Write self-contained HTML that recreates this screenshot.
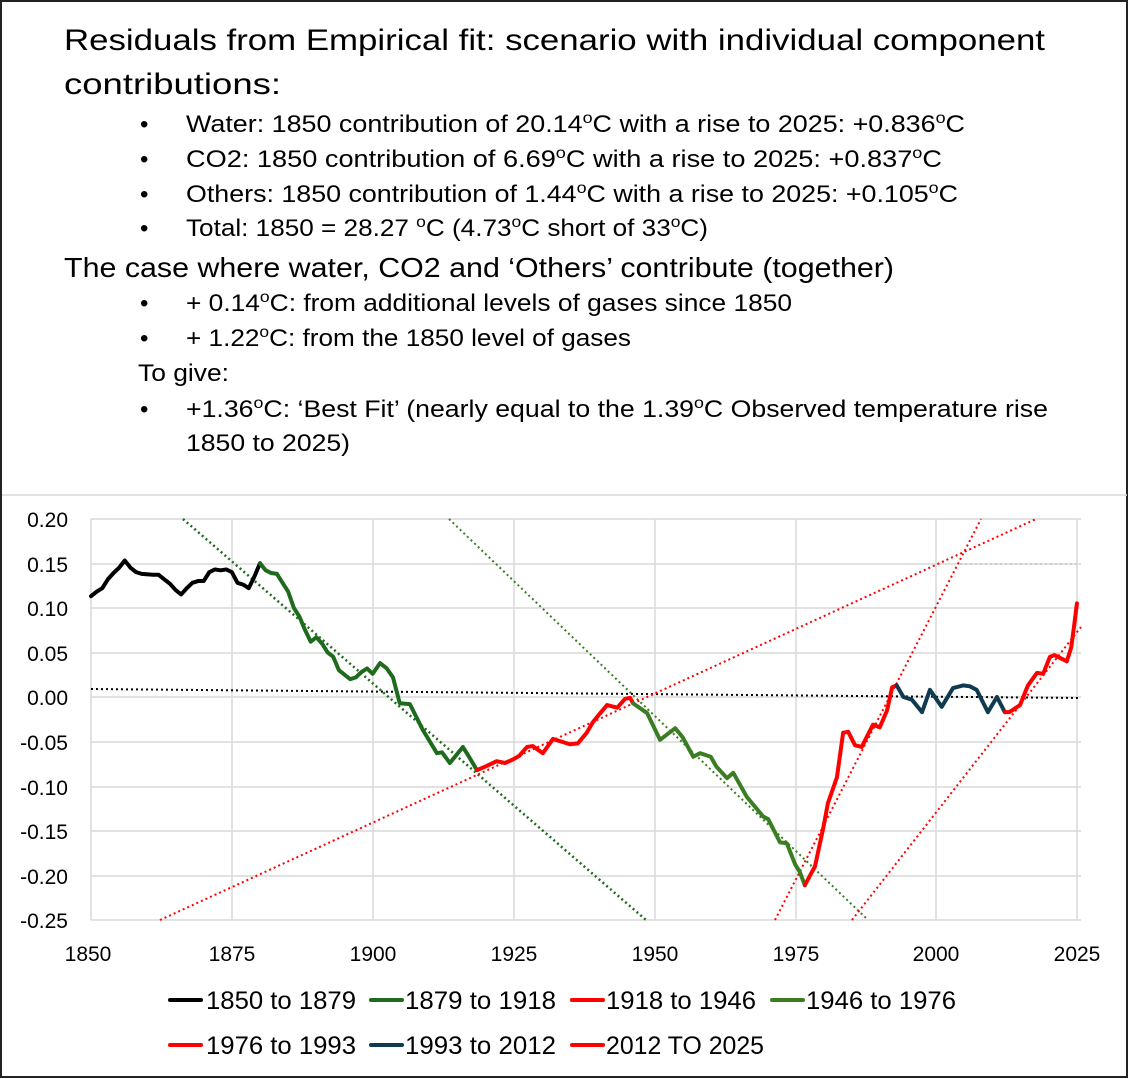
<!DOCTYPE html>
<html><head><meta charset="utf-8"><style>
html,body{margin:0;padding:0;background:#fff}
svg{display:block}
text{font-family:"Liberation Sans",sans-serif;fill:#000}
.t{font-size:30px}
.b{font-size:24px}
.ax{font-size:21px;fill:#222}
.lg{font-size:25px}
</style></head><body>
<svg width="1129" height="1079" viewBox="0 0 1129 1079" xmlns="http://www.w3.org/2000/svg">
<rect x="1" y="1" width="1126" height="1076" fill="#fff" stroke="#222" stroke-width="2"/>
<line x1="2" y1="495" x2="1127" y2="495" stroke="#d9d9d9" stroke-width="1.5"/>
<text class="t" x="64" y="50" textLength="981" lengthAdjust="spacingAndGlyphs">Residuals from Empirical fit: scenario with individual component</text>
<text class="t" x="64" y="94" textLength="217" lengthAdjust="spacingAndGlyphs">contributions:</text>
<text class="b" x="140" y="132">•</text>
<text class="b" x="186" y="132" textLength="779" lengthAdjust="spacingAndGlyphs">Water: 1850 contribution of 20.14<tspan dy="-9" font-size="16">o</tspan><tspan dy="9">C with a rise to 2025: +0.836</tspan><tspan dy="-9" font-size="16">o</tspan><tspan dy="9">C</tspan></text>
<text class="b" x="140" y="167">•</text>
<text class="b" x="186" y="167" textLength="756" lengthAdjust="spacingAndGlyphs">CO2: 1850 contribution of 6.69<tspan dy="-9" font-size="16">o</tspan><tspan dy="9">C with a rise to 2025: +0.837</tspan><tspan dy="-9" font-size="16">o</tspan><tspan dy="9">C</tspan></text>
<text class="b" x="140" y="202">•</text>
<text class="b" x="186" y="202" textLength="772" lengthAdjust="spacingAndGlyphs">Others: 1850 contribution of 1.44<tspan dy="-9" font-size="16">o</tspan><tspan dy="9">C with a rise to 2025: +0.105</tspan><tspan dy="-9" font-size="16">o</tspan><tspan dy="9">C</tspan></text>
<text class="b" x="140" y="236">•</text>
<text class="b" x="186" y="236" textLength="522" lengthAdjust="spacingAndGlyphs">Total: 1850 = 28.27 <tspan dy="-9" font-size="16">o</tspan><tspan dy="9">C (4.73</tspan><tspan dy="-9" font-size="16">o</tspan><tspan dy="9">C short of 33</tspan><tspan dy="-9" font-size="16">o</tspan><tspan dy="9">C)</tspan></text>
<text x="64" y="277" font-size="28" textLength="830" lengthAdjust="spacingAndGlyphs">The case where water, CO2 and ‘Others’ contribute (together)</text>
<text class="b" x="140" y="311">•</text>
<text class="b" x="186" y="311" textLength="606" lengthAdjust="spacingAndGlyphs">+ 0.14<tspan dy="-9" font-size="16">o</tspan><tspan dy="9">C: from additional levels of gases since 1850</tspan></text>
<text class="b" x="140" y="346">•</text>
<text class="b" x="186" y="346" textLength="445" lengthAdjust="spacingAndGlyphs">+ 1.22<tspan dy="-9" font-size="16">o</tspan><tspan dy="9">C: from the 1850 level of gases</tspan></text>
<text class="b" x="138" y="381" textLength="91" lengthAdjust="spacingAndGlyphs">To give:</text>
<text class="b" x="140" y="417">•</text>
<text class="b" x="186" y="417" textLength="862" lengthAdjust="spacingAndGlyphs">+1.36<tspan dy="-9" font-size="16">o</tspan><tspan dy="9">C: ‘Best Fit’ (nearly equal to the 1.39</tspan><tspan dy="-9" font-size="16">o</tspan><tspan dy="9">C Observed temperature rise</tspan></text>
<text class="b" x="186" y="451" textLength="164" lengthAdjust="spacingAndGlyphs">1850 to 2025)</text>

<g stroke="#d9d9d9" stroke-width="1.5">
<line x1="91" y1="519" x2="1081" y2="519"/><line x1="91" y1="564" x2="1081" y2="564"/>
<line x1="91" y1="608" x2="1081" y2="608"/><line x1="91" y1="653" x2="1081" y2="653"/>
<line x1="91" y1="697" x2="1081" y2="697"/><line x1="91" y1="742" x2="1081" y2="742"/>
<line x1="91" y1="787" x2="1081" y2="787"/><line x1="91" y1="831" x2="1081" y2="831"/>
<line x1="91" y1="876" x2="1081" y2="876"/><line x1="91" y1="920" x2="1081" y2="920"/>
<line x1="91" y1="519" x2="91" y2="920"/><line x1="232" y1="519" x2="232" y2="920"/>
<line x1="373" y1="519" x2="373" y2="920"/><line x1="514" y1="519" x2="514" y2="920"/>
<line x1="655" y1="519" x2="655" y2="920"/><line x1="796" y1="519" x2="796" y2="920"/>
<line x1="936" y1="519" x2="936" y2="920"/><line x1="1077" y1="519" x2="1077" y2="920"/>
</g>
<g class="ax" text-anchor="end">
<text x="68" y="527">0.20</text><text x="68" y="572">0.15</text><text x="68" y="616">0.10</text>
<text x="68" y="661">0.05</text><text x="68" y="705">0.00</text><text x="68" y="750">-0.05</text>
<text x="68" y="795">-0.10</text><text x="68" y="839">-0.15</text><text x="68" y="884">-0.20</text>
<text x="68" y="928">-0.25</text>
</g>
<g class="ax" text-anchor="middle">
<text x="88" y="961">1850</text><text x="232" y="961">1875</text><text x="373" y="961">1900</text>
<text x="514" y="961">1925</text><text x="655" y="961">1950</text><text x="796" y="961">1975</text>
<text x="936" y="961">2000</text><text x="1077" y="961">2025</text>
</g>

<g fill="none" stroke-width="2" stroke-dasharray="2 3">
<line x1="91" y1="689" x2="1079" y2="698" stroke="#000"/>
<line x1="960" y1="564" x2="1077" y2="564" stroke="#ccc"/>
<line x1="183" y1="519" x2="646" y2="920" stroke="#1e6b1e" stroke-width="2.5"/>
<line x1="449" y1="519" x2="868" y2="920" stroke="#3a7d22"/>
<line x1="160" y1="920" x2="1036" y2="519" stroke="#ff0000"/>
<line x1="775" y1="920" x2="981" y2="519" stroke="#ff0000"/>
<line x1="852" y1="920" x2="1081" y2="627" stroke="#ff0000"/>
</g>

<g transform="translate(-10331.9,697) scale(5.634,-892)" fill="none" stroke-width="4" stroke-linejoin="round" stroke-linecap="round">
<polyline vector-effect="non-scaling-stroke" stroke="#000" points="1850,.113 1851,.118 1852,.122 1853,.132 1854,.139 1855,.145 1856,.153 1857,.145 1858,.140 1859,.138 1861,.137 1862,.137 1863,.132 1864,.127 1865,.12 1866,.115 1867,.122 1868,.128 1869,.13 1870,.13 1871,.14 1872,.143 1873,.142 1874,.143 1875,.14 1876,.128 1877,.126 1878,.122 1879,.135 1880,.15"/>
<polyline vector-effect="non-scaling-stroke" stroke="#1e6b1e" points="1880,.15 1881,.142 1882,.139 1883,.138 1884,.128 1885,.118 1886,.1 1887,.09 1888,.075 1889,.062 1890,.067 1891,.06 1892,.05 1893,.045 1894,.03 1895,.025 1896,.02 1897,.022 1898,.028 1899,.032 1900,.026 1901.3,.038 1902.5,.032 1903.6,.022 1904.8,-.007 1906.6,-.008 1908.9,-.037 1911.4,-.063 1912.3,-.062 1913.7,-.074 1916,-.056 1917,-.066 1918.5,-.082"/>
<polyline vector-effect="non-scaling-stroke" stroke="#ff0000" points="1918.5,-.082 1920,-.078 1922,-.072 1923.5,-.074 1924.9,-.07 1926,-.066 1927.4,-.056 1928.4,-.055 1930.2,-.063 1932,-.047 1933.5,-.05 1935,-.053 1936.4,-.052 1938,-.04 1939.1,-.028 1940.4,-.018 1941.6,-.009 1943.4,-.012 1944.8,-.002 1945.7,-.001 1946.2,-.007"/>
<polyline vector-effect="non-scaling-stroke" stroke="#3a7d22" points="1946.2,-.007 1948.7,-.018 1951,-.048 1953.7,-.035 1955,-.045 1956.9,-.067 1958.1,-.063 1960,-.067 1961,-.078 1962.9,-.091 1964,-.085 1966.4,-.112 1969.3,-.134 1970.2,-.137 1972.3,-.163 1973.5,-.164 1975,-.188 1975.8,-.196 1976.7,-.211"/>
<polyline vector-effect="non-scaling-stroke" stroke="#ff0000" points="1976.7,-.211 1978.5,-.19 1980,-.146 1980.8,-.119 1982.4,-.09 1983.5,-.04 1984.4,-.039 1985.6,-.054 1986.8,-.056 1988.8,-.031 1990,-.034 1991.3,-.015 1992.2,.011 1993,.013"/>
<polyline vector-effect="non-scaling-stroke" stroke="#0f3a4f" points="1993,.013 1994.2,0 1995.7,-.003 1997.5,-.017 1998.9,.008 2001,-.011 2003,.01 2004.8,.013 2006,.012 2007.2,.008 2009.2,-.017 2010.8,0 2012.2,-.017"/>
<polyline vector-effect="non-scaling-stroke" stroke="#ff0000" points="2012.2,-.017 2013,-.017 2014.9,-.009 2016.3,.013 2017.9,.027 2019,.026 2020.2,.045 2021,.047 2023.2,.04 2024,.056 2024.5,.08 2025,.105"/>
</g>

<g stroke-width="4" stroke-linecap="round">
<line x1="170" y1="1000" x2="201" y2="1000" stroke="#000"/>
<line x1="371" y1="1000" x2="402" y2="1000" stroke="#1e6b1e"/>
<line x1="572" y1="1000" x2="603" y2="1000" stroke="#ff0000"/>
<line x1="772" y1="1000" x2="803" y2="1000" stroke="#3a7d22"/>
<line x1="170" y1="1045" x2="201" y2="1045" stroke="#ff0000"/>
<line x1="371" y1="1045" x2="402" y2="1045" stroke="#0f3a4f"/>
<line x1="572" y1="1045" x2="603" y2="1045" stroke="#ff0000"/>
</g>
<g class="lg">
<text x="206" y="1009" textLength="150" lengthAdjust="spacingAndGlyphs">1850 to 1879</text>
<text x="405" y="1009" textLength="151" lengthAdjust="spacingAndGlyphs">1879 to 1918</text>
<text x="606" y="1009" textLength="150" lengthAdjust="spacingAndGlyphs">1918 to 1946</text>
<text x="806" y="1009" textLength="150" lengthAdjust="spacingAndGlyphs">1946 to 1976</text>
<text x="206" y="1054" textLength="150" lengthAdjust="spacingAndGlyphs">1976 to 1993</text>
<text x="405" y="1054" textLength="151" lengthAdjust="spacingAndGlyphs">1993 to 2012</text>
<text x="606" y="1054" textLength="158" lengthAdjust="spacingAndGlyphs">2012 TO 2025</text>
</g>
</svg>
</body></html>
